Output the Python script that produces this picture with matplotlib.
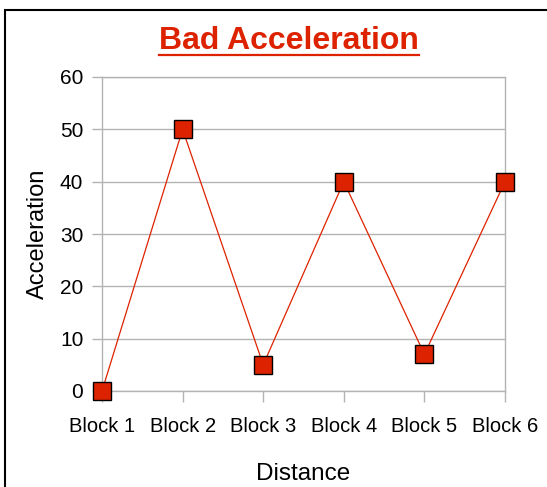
import matplotlib.pyplot as plt
from matplotlib.patches import Rectangle

plt.rcParams['font.family'] = ['Liberation Sans', 'DejaVu Sans']

blocks = ['Block 1', 'Block 2', 'Block 3', 'Block 4', 'Block 5', 'Block 6']
accel = [0, 50, 5, 40, 7, 40]
yticks = [0, 10, 20, 30, 40, 50, 60]

red = '#dd2200'
gray = '#b3b3b3'

fig = plt.figure(figsize=(5.47, 4.87), dpi=100)
ax = fig.add_axes([102/547, 1-391/487, (505-102)/547, (391-77)/487])

x = list(range(len(blocks)))
ax.plot(x, accel, color=red, linewidth=0.9, marker='s', markersize=13,
        markerfacecolor=red, markeredgecolor='black', markeredgewidth=1.0,
        clip_on=False, zorder=3)

ax.set_xlim(0, len(blocks) - 1)
ax.set_ylim(0, 60)
ax.set_xticks(x)
ax.set_xticklabels(blocks)
ax.set_yticks(yticks)
ax.tick_params(axis='y', labelsize=15, color=gray, length=7.5, width=1, pad=6)
ax.tick_params(axis='x', labelsize=14.5, color=gray, length=8, width=1, pad=11)
ax.yaxis.grid(True, color=gray, linewidth=1)
ax.set_axisbelow(True)
for s in ax.spines.values():
    s.set_color(gray)
    s.set_linewidth(1)

ax.set_xlabel('Distance', fontsize=17.5, labelpad=19)
ax.set_ylabel('Acceleration', fontsize=17, labelpad=8)

fig.text(289/547, 1-41/487, 'Bad Acceleration', color=red, fontsize=23,
         fontweight='bold', ha='center', va='center')
fig.add_artist(plt.Line2D([159/547, 419/547], [1-54.5/487, 1-54.5/487],
                          color=red, linewidth=1.6, transform=fig.transFigure))

# frame around the chart
fig.add_artist(Rectangle((5/547, -0.1), 1.2, 1 - 10/487 + 0.1, fill=False,
                         edgecolor='black', linewidth=1.5,
                         transform=fig.transFigure))

fig.savefig('out.png', dpi=100)
